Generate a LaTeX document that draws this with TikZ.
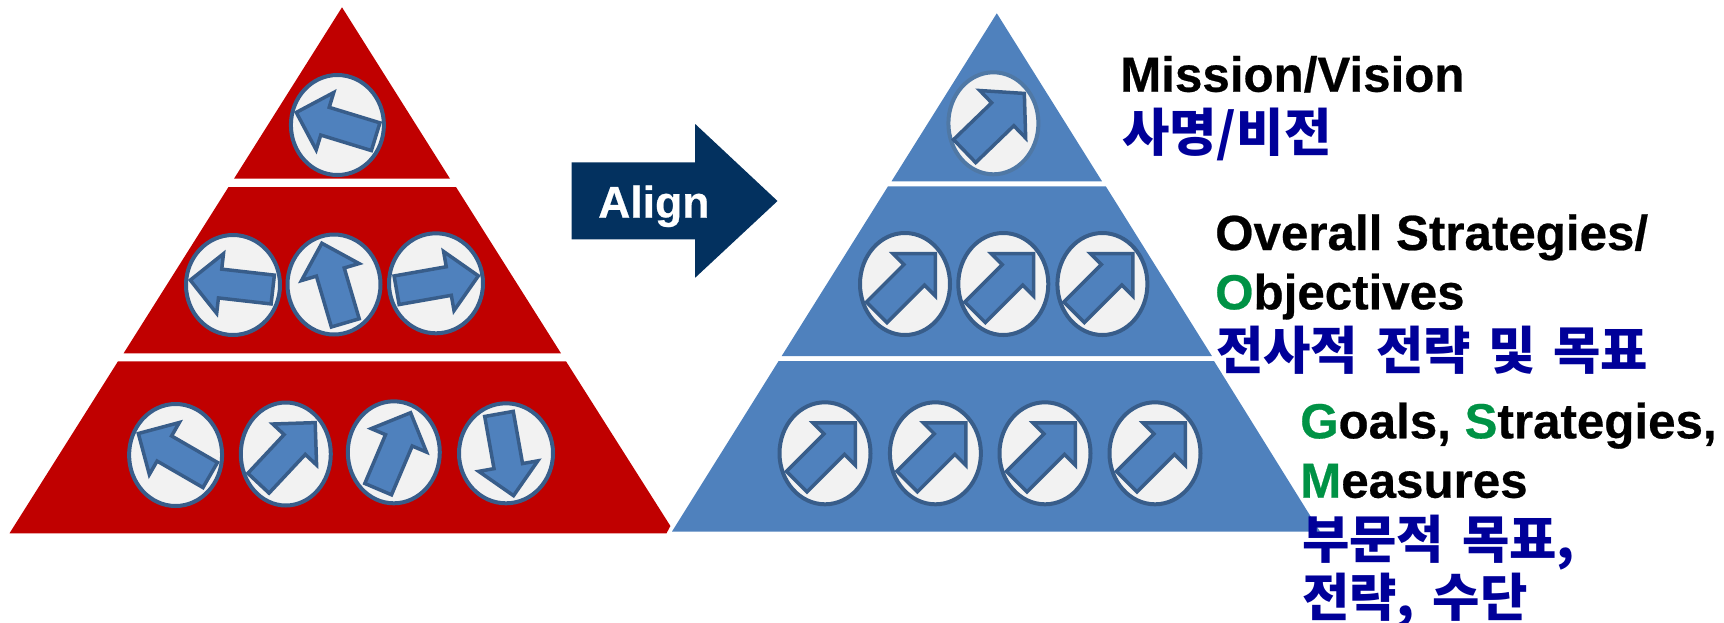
\documentclass[tikz,border=0pt]{standalone}
\usepackage{fontspec}
\setmainfont{Liberation Sans}[BoldFeatures={FakeBold=0.5}]
\newfontfamily\korfont[WordSpace=1.5]{Noto Sans CJK KR}
\usetikzlibrary{shapes}
\definecolor{tierred}{HTML}{C00000}
\definecolor{tierblue}{HTML}{4F81BD}
\definecolor{edgeblue}{HTML}{385D8A}
\definecolor{softblue}{HTML}{5F93C9}
\definecolor{softedge}{HTML}{4F78A5}
\definecolor{alignnavy}{HTML}{03315F}
\definecolor{capgreen}{HTML}{009245}
\definecolor{korblue}{HTML}{000099}

\begin{document}
\begin{tikzpicture}[x=1pt, y=-1pt]
    \tikzset{
        disc/.style = {ellipse, inner sep=0pt, minimum width=92pt, minimum height=100pt, line width=4pt, draw=edgeblue, fill=black!5},
        ptr/.pic = {\filldraw [line width=3.5pt, miter limit=4, draw=edgeblue, fill=tierblue, pic actions] (-40,-14.5) -- (13,-14.5) -- (13,-30) -- (43,0) -- (13,30) -- (13,14.5) -- (-40,14.5) -- cycle;},
        eng/.style = {anchor=base west, inner sep=0pt, font=\fontsize{49.3}{59}\selectfont\bfseries},
        kor/.style = {anchor=base west, inner sep=0pt, text=korblue, font=\fontsize{51.5}{62}\selectfont\korfont\bfseries},
    }
    \useasboundingbox (0,0) rectangle (1724,622);

    % left pyramid
    \fill [tierred] (342,7.3) -- (450,178.7) -- (234,178.7) -- cycle;
    \fill [tierred] (228.5,187) -- (456,187) -- (561,353.3) -- (123.6,353.3) -- cycle;
    \fill [tierred] (118,361.3) -- (566,361.3) -- (670.4,526) -- (666.5,533.3) -- (9.5,533.3) -- cycle;

    \node (r_top) [disc, minimum width=93pt] at (337.4,125) {};
    \node (r_mid1) [disc, minimum width=94pt] at (233,285) {};
    \node (r_mid2) [disc, minimum width=93pt] at (334,284.5) {};
    \node (r_mid3) [disc, minimum width=94pt] at (436,283.3) {};
    \node (r_low1) [disc, minimum width=93pt, minimum height=102pt] at (175.6,455) {};
    \node (r_low2) [disc, minimum width=90pt, minimum height=103pt] at (285.8,454) {};
    \node (r_low3) [disc, minimum width=92pt, minimum height=102pt] at (393.8,452.3) {};
    \node (r_low4) [disc, minimum width=94pt] at (506,453.3) {};

    \pic [rotate=163] at (r_top) {ptr};
    \pic [rotate=173.5] at (r_mid1) {ptr};
    \pic [rotate=106.4] at (r_mid2) {ptr};
    \pic [rotate=10] at (r_mid3) {ptr};
    \pic [rotate=150] at (r_low1) {ptr};
    \pic [rotate=46.9] at (r_low2) {ptr};
    \pic [rotate=67] at (r_low3) {ptr};
    \pic [rotate=-79.9] at (r_low4) {ptr};

    % align arrow
    \fill [alignnavy] (571.6,162.3) -- (695.2,162.3) -- (695.2,124) -- (777.5,201) -- (695.2,277.7) -- (695.2,239.3) -- (571.6,239.3) -- cycle;
    \node (align) [anchor=base west, inner sep=0pt, text=white, font=\fontsize{44.5}{54}\selectfont\bfseries] at (598,217.7) {Align};

    % right pyramid
    \fill [tierblue] (996.8,13.3) -- (1102,181.3) -- (891.5,181.3) -- cycle;
    \fill [tierblue] (888,186.3) -- (1105.8,186.3) -- (1211.9,356) -- (781.7,356) -- cycle;
    \fill [tierblue] (778.6,361) -- (1214,361) -- (1320,531.5) -- (672,531.5) -- cycle;

    \node (b_top) [disc, minimum width=90pt, minimum height=102pt, draw=softedge] at (993.4,123.3) {};
    \node (b_mid1) [disc, minimum width=90pt, minimum height=102pt] at (905,284) {};
    \node (b_mid2) [disc, minimum width=90pt, minimum height=102pt] at (1003.3,284) {};
    \node (b_mid3) [disc, minimum width=90pt, minimum height=102pt] at (1102.4,284) {};
    \node (b_low1) [disc, minimum width=91pt, minimum height=102pt] at (825,453.3) {};
    \node (b_low2) [disc, minimum width=91pt, minimum height=102pt] at (935.4,453.3) {};
    \node (b_low3) [disc, minimum width=91pt, minimum height=102pt] at (1045,453.3) {};
    \node (b_low4) [disc, minimum width=91pt, minimum height=102pt] at (1155,453.3) {};

    \pic [rotate=44, yscale=1.1, draw=softedge, fill=softblue] at (b_top) {ptr};
    \pic [rotate=45] at (b_mid1) {ptr};
    \pic [rotate=45] at (b_mid2) {ptr};
    \pic [rotate=45] at (b_mid3) {ptr};
    \pic [rotate=45] at (b_low1) {ptr};
    \pic [rotate=45] at (b_low2) {ptr};
    \pic [rotate=45] at (b_low3) {ptr};
    \pic [rotate=45] at (b_low4) {ptr};

    % labels
    \node (mission) [eng] at (1120,91.7) {Mission/Vision};
    \node (mission_kor) [kor] at (1122,151) {사명/비전};
    \node (overall) [eng] at (1215,250) {Overall Strategies/};
    \node (objectives) [eng] at (1215,309.3) {\textcolor{capgreen}{O}bjectives};
    \node (overall_kor) [kor] at (1216,369.5) {전사적 전략 및 목표};
    \node (goals) [eng] at (1300,438.3) {\textcolor{capgreen}{G}oals, \textcolor{capgreen}{S}trategies,};
    \node (measures) [eng] at (1300,497.7) {\textcolor{capgreen}{M}easures};
    \node (goals_kor1) [kor] at (1302,558) {부문적 목표,};
    \node (goals_kor2) [kor] at (1302,616.5) {전략, 수단};
\end{tikzpicture}
\end{document}
